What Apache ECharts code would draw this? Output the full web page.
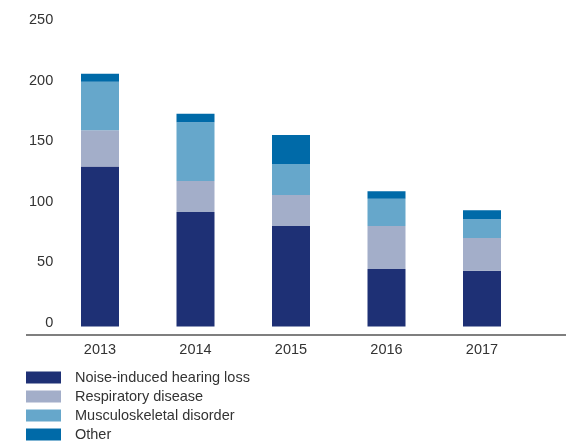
<!DOCTYPE html>
<html><head><meta charset="utf-8">
<script src="https://cdn.jsdelivr.net/npm/echarts@6/dist/echarts.min.js"></script>
<style>html,body{margin:0;padding:0;background:#fff}#c{width:566px;height:447px}</style>
</head><body><div id="c"></div>
<script>
const years = ['2013', '2014', '2015', '2016', '2017'];
const noise = [132, 94.5, 83, 47.5, 46];
const respiratory = [30, 25.5, 25.5, 35.5, 27];
const musculoskeletal = [40, 48.5, 25.5, 22.5, 15.5];
const other = [6.5, 7, 24, 6, 7.5];
const yTicks = [0, 50, 100, 150, 200, 250];

const names = ['Noise-induced hearing loss', 'Respiratory disease', 'Musculoskeletal disorder', 'Other'];
const colors = ['#1e3075', '#a3aec9', '#66a7cb', '#006aa8'];
const dataSets = [noise, respiratory, musculoskeletal, other];
const font = 'Liberation Sans';

const chart = echarts.init(document.getElementById('c'));
chart.setOption({
  animation: false,
  color: colors,
  grid: { left: 52.25, right: 36.25, top: 23.5, bottom: 120.5 },
  xAxis: {
    type: 'category', data: years,
    axisLine: { show: false }, axisTick: { show: false },
    axisLabel: { margin: 16, fontSize: 14.5, color: '#333', fontFamily: font }
  },
  yAxis: {
    type: 'value', min: yTicks[0], max: yTicks[yTicks.length - 1], interval: 50,
    splitLine: { show: false }, axisLine: { show: false }, axisTick: { show: false },
    axisLabel: { margin: -1, fontSize: 14.5, color: '#333', fontFamily: font, verticalAlign: 'bottom', lineHeight: 7 }
  },
  legend: {
    orient: 'vertical', left: 26, top: 370, height: 90, padding: 0,
    itemWidth: 35, itemHeight: 12, itemGap: 4, icon: 'rect',
    textStyle: { fontSize: 14.5, color: '#333', fontFamily: font, lineHeight: 12, padding: [0, 0, 0, 9] },
    data: names
  },
  graphic: [{
    type: 'line', shape: { x1: 26, y1: 335, x2: 566, y2: 335 },
    style: { stroke: '#555', lineWidth: 1.5 }, silent: true
  }],
  series: names.map((n, i) => ({
    name: n, type: 'bar', stack: 'total', barWidth: 38,
    itemStyle: { color: colors[i] }, data: dataSets[i]
  }))
});
</script></body></html>
